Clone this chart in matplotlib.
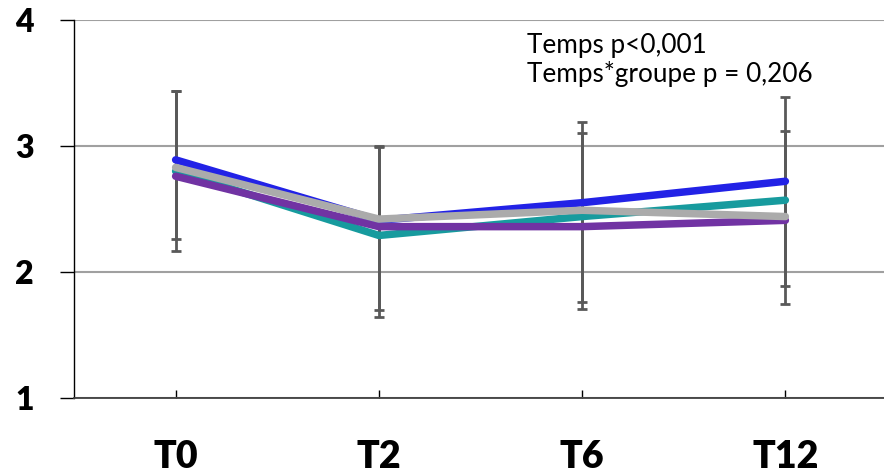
import numpy as np
import matplotlib
matplotlib.use('Agg')
import matplotlib.pyplot as plt

plt.rcParams['font.family'] = ['Lato', 'DejaVu Sans']

times = ['T0', 'T2', 'T6', 'T12']
blue = [2.89, 2.41, 2.55, 2.72]
teal = [2.80, 2.29, 2.44, 2.57]
purple = [2.76, 2.36, 2.36, 2.41]
grey = [2.83, 2.42, 2.49, 2.44]

# error bar bounds (two groups visible per time point)
top_a = [3.44, 3.00, 3.19, 3.39]
bot_a = [2.26, 1.70, 1.76, 1.89]
top_b = [3.44, 2.99, 3.10, 3.12]
bot_b = [2.17, 1.64, 1.71, 1.75]

x = np.arange(len(times))

fig = plt.figure(figsize=(8.84, 4.74), dpi=100)
ax = fig.add_axes([74/884, 76/474, 813/884, 378/474])

for top, bot in [(top_a, bot_a), (top_b, bot_b)]:
    top = np.array(top)
    bot = np.array(bot)
    ax.errorbar(x, (top + bot) / 2, yerr=(top - bot) / 2, fmt='none',
                ecolor='#595959', elinewidth=2, capsize=3.3, capthick=2, zorder=2)

for vals, col in [(blue, '#2222E6'), (teal, '#179B9E'), (purple, '#7133A3'), (grey, '#ABABAB')]:
    ax.plot(x, vals, color=col, lw=5.4, solid_capstyle='round',
            solid_joinstyle='round', zorder=3)

ax.set_xlim(-0.5, 3.5)
ax.set_ylim(1, 4)
ax.set_yticks([1, 2, 3, 4])
ax.set_yticklabels(['1', '2', '3', '4'], fontsize=23, fontweight='heavy')
ax.set_xticks(x)
ax.set_xticklabels(times, fontsize=27, fontweight='heavy')
ax.yaxis.grid(True, color='#A0A0A0', lw=1.5)
ax.set_axisbelow(True)

ax.tick_params(axis='y', direction='out', length=10, width=1, pad=19)
ax.tick_params(axis='x', direction='in', length=6, width=1, pad=30)
for s in ['top', 'right']:
    ax.spines[s].set_visible(False)
ax.spines['left'].set_color('black')
ax.spines['left'].set_linewidth(1)
ax.spines['bottom'].set_color('#404040')
ax.spines['bottom'].set_linewidth(1.3)

ax.text(527 / 884, 1 - 53 / 474, 'Temps p<0,001', transform=fig.transFigure,
        fontsize=18.8, va='baseline')
ax.text(527 / 884, 1 - 82 / 474, 'Temps*groupe p = 0,206', transform=fig.transFigure,
        fontsize=18.8, va='baseline')

fig.savefig('out.png', dpi=100)
